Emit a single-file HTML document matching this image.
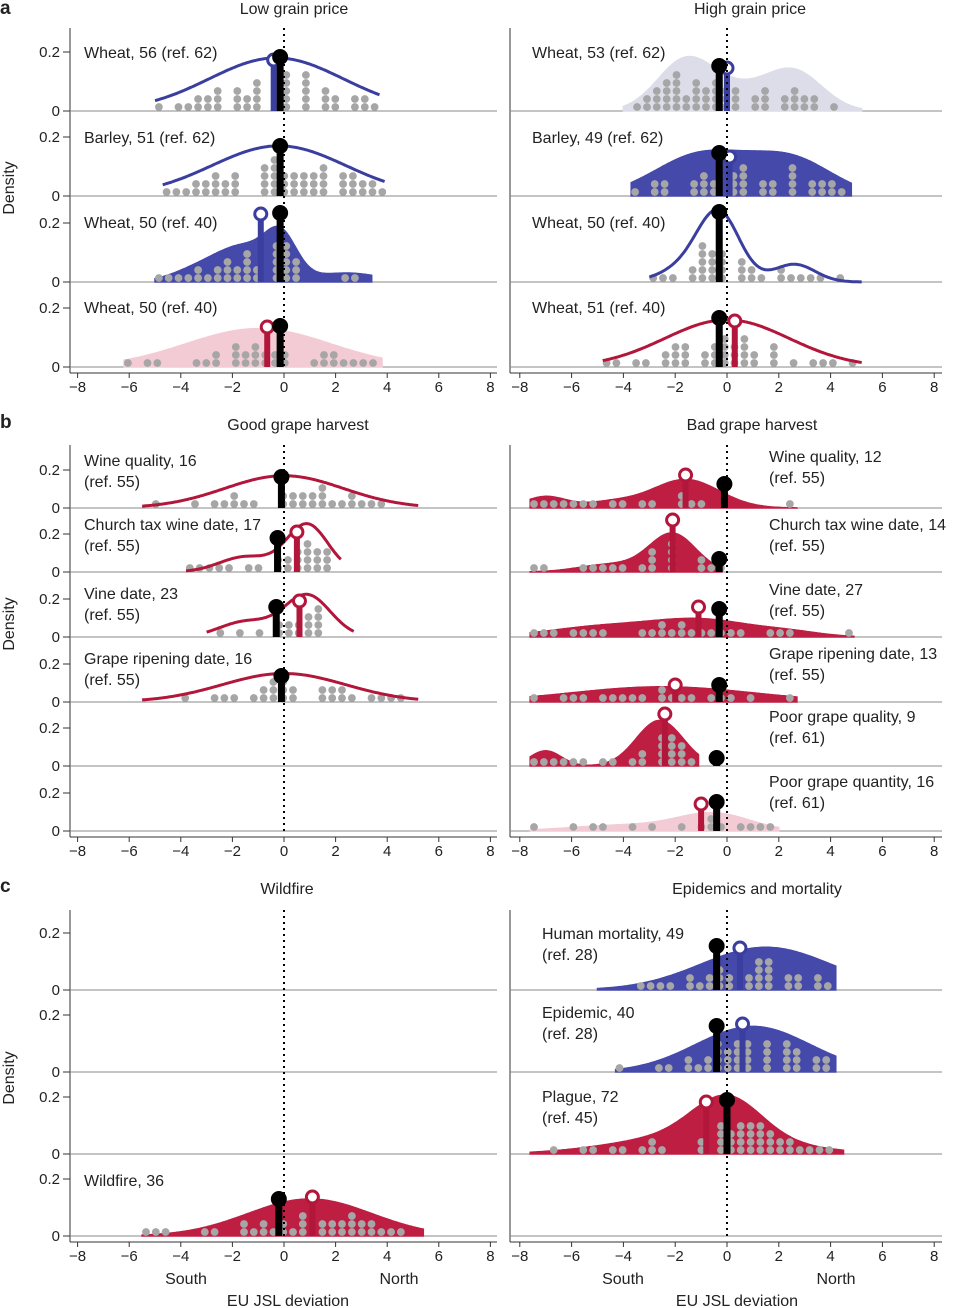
<!DOCTYPE html>
<html><head><meta charset="utf-8">
<style>
html,body{margin:0;padding:0;background:#fff;}
svg{display:block;font-family:"Liberation Sans",Arial,sans-serif;}
</style></head>
<body>
<svg id="s" width="960" height="1308" viewBox="0 0 960 1308" xmlns="http://www.w3.org/2000/svg"></svg>
<script>
const S=document.getElementById('s');let out='';
const L={x0:284,s:25.8,a:70,b:497},R={x0:727,s:25.9,a:510,b:942};
const BLUE='#3a3e9e',BLUEF='#4549aa',RED='#b3163b',REDF='#bd1e42',LAV='#dcdde9',PINK='#f3cbd5';
function T(x,y,t,o){o=o||{};out+=`<text x="${x}" y="${y}" font-size="${o.fs||16}" text-anchor="${o.a||'start'}" fill="#222" ${o.w?'font-weight="bold"':''} ${o.tr?`transform="${o.tr}"`:''}>${t}</text>`;}
let seed=7;function rnd(){seed=(seed*9301+49297)%233280;return seed/233280;}
function dens(g,x){let d=0;for(const [m,sd,a] of g)d+=a*Math.exp(-0.5*((x-m)/sd)**2);return d;}
function row(P,base,H,r){
 const X=v=>P.x0+v*P.s, Y=d=>base-d/0.2*H;
 out+=`<line x1="${P.a}" y1="${base}" x2="${P.b}" y2="${base}" stroke="#888" stroke-width="1"/>`;
 if(r.g){
  let pts=[];for(let v=r.lo;v<=r.hi+1e-6;v+=0.05)pts.push([X(v),Y(dens(r.g,v))]);
  const pl=pts.map(p=>p[0].toFixed(1)+','+p[1].toFixed(1)).join(' ');
  if(r.fill){out+=`<polygon points="${X(r.lo)},${base} ${pl} ${X(r.hi)},${base}" fill="${r.fill}" stroke="${r.stroke||r.fill}" stroke-width="1.5"/>`;}
  for(let v=r.lo+0.15;v<=r.hi;v+=0.38){
   if(rnd()<0.2)continue;
   let n=Math.round(dens(r.g,v)/0.2*H/8*0.65*(0.5+rnd()*0.8));
   if(n<1&&rnd()<0.5)n=1;
   for(let k=0;k<n;k++)out+=`<circle cx="${X(v).toFixed(1)}" cy="${base-4-k*8}" r="3.9" fill="#a6a6a6"/>`;
  }
  if(!r.fill)out+=`<polyline points="${pl}" fill="none" stroke="${r.line}" stroke-width="3"/>`;
 }
 if(r.open){const [v,y,c]=r.open;out+=`<rect x="${X(v)-3}" y="${y}" width="6" height="${base-y}" fill="${c}"/><circle cx="${X(v)}" cy="${y}" r="6" fill="#fff" stroke="${c}" stroke-width="3"/>`;}
 if(r.blk){const [v,y]=r.blk;out+=`<rect x="${X(v)-3.5}" y="${y}" width="7" height="${base-y}" fill="#000"/><circle cx="${X(v)}" cy="${y}" r="8" fill="#000"/>`;}
 if(r.lab){r.lab.forEach((t,i)=>T(r.lx,r.ly+i*21,t));}
}
function axis(P,y){
 out+=`<line x1="${P.a}" y1="${y}" x2="${P.b}" y2="${y}" stroke="#333"/>`;
 for(let v=-8;v<=8;v+=2){const x=P.x0+v*P.s;out+=`<line x1="${x}" y1="${y}" x2="${x}" y2="${y+5}" stroke="#333"/>`;T(x,y+19,(v<0?'−':'')+Math.abs(v),{a:'middle',fs:15});}
}
function yl(base,H){T(60,base-H+5,'0.2',{a:'end',fs:15});T(60,base+5,'0',{a:'end',fs:15});out+=`<line x1="63" y1="${base-H}" x2="70" y2="${base-H}" stroke="#333"/><line x1="63" y1="${base}" x2="70" y2="${base}" stroke="#333"/>`;}
function dotline(P,y1,y2){out+=`<line x1="${P.x0}" y1="${y1}" x2="${P.x0}" y2="${y2}" stroke="#000" stroke-width="2" stroke-dasharray="2,4"/>`;}
function vax(P,y1,y2){out+=`<line x1="${P.a}" y1="${y1}" x2="${P.a}" y2="${y2}" stroke="#333"/>`;}

T(0,14,'a',{w:1,fs:19});T(294,14,'Low grain price',{a:'middle'});T(750,14,'High grain price',{a:'middle'});
const aB=[111,196,282,367],aH=59;
aB.forEach(b=>yl(b,aH));vax(L,28,373);vax(R,28,373);
T(14,188,'Density',{a:'middle',tr:'rotate(-90 14 188)'});
row(L,111,aH,{g:[[-0.3,2.6,0.18]],lo:-5,hi:3.7,line:BLUE,open:[-0.4,60,BLUE],blk:[-0.15,57],lab:['Wheat, 56 (ref. 62)'],lx:84,ly:58});
row(L,196,aH,{g:[[-0.2,2.6,0.17]],lo:-4.7,hi:3.9,line:BLUE,blk:[-0.15,146],lab:['Barley, 51 (ref. 62)'],lx:84,ly:143});
row(L,282,aH,{g:[[-0.1,0.6,0.12],[-1.5,1.2,0.12],[2.5,1.2,0.03],[-3.5,1,0.03]],lo:-5,hi:3.4,fill:BLUEF,open:[-0.9,214,BLUE],blk:[-0.15,213],lab:['Wheat, 50 (ref. 40)'],lx:84,ly:228});
row(L,367,aH,{g:[[-1,2.8,0.13]],lo:-6.2,hi:3.8,fill:PINK,open:[-0.65,327,RED],blk:[-0.15,326],lab:['Wheat, 50 (ref. 40)'],lx:84,ly:313});
row(R,111,aH,{g:[[-1.6,1.1,0.17],[2.6,1.1,0.13],[0.5,1.2,0.06]],lo:-4,hi:5.2,fill:LAV,open:[0,68,BLUE],blk:[-0.3,66],lab:['Wheat, 53 (ref. 62)'],lx:532,ly:58});
row(R,196,aH,{g:[[-1,1.8,0.14],[2.5,1.6,0.12]],lo:-3.7,hi:4.8,fill:BLUEF,open:[0.1,157,BLUE],blk:[-0.3,153],lab:['Barley, 49 (ref. 62)'],lx:532,ly:143});
row(R,282,aH,{g:[[-0.3,0.8,0.22],[2.6,0.8,0.06],[-1.5,1,0.05]],lo:-3,hi:5.2,line:BLUE,blk:[-0.3,212],lab:['Wheat, 50 (ref. 40)'],lx:532,ly:228});
row(R,367,aH,{g:[[0,2.4,0.16]],lo:-4.8,hi:5.2,line:RED,open:[0.3,321,RED],blk:[-0.3,318],lab:['Wheat, 51 (ref. 40)'],lx:532,ly:313});
dotline(L,28,367);dotline(R,28,367);axis(L,373);axis(R,373);

T(0,428,'b',{w:1,fs:19});T(298,430,'Good grape harvest',{a:'middle'});T(752,430,'Bad grape harvest',{a:'middle'});
const bB=[508,572,637,702,766,831],bH=38;
bB.forEach(b=>yl(b,bH));vax(L,445,837);vax(R,445,837);
T(14,624,'Density',{a:'middle',tr:'rotate(-90 14 624)'});
row(L,508,bH,{g:[[0,2.3,0.17]],lo:-5.5,hi:5.2,line:RED,blk:[-0.1,477],lab:['Wine quality, 16','(ref. 55)'],lx:84,ly:466});
row(L,572,bH,{g:[[0.9,0.8,0.25],[-1.5,1,0.08]],lo:-3.8,hi:2.2,line:RED,open:[0.5,532,RED],blk:[-0.25,538],lab:['Church tax wine date, 17','(ref. 55)'],lx:84,ly:530});
row(L,637,bH,{g:[[0.9,0.9,0.22],[-1.5,1,0.08]],lo:-3,hi:2.7,line:RED,open:[0.6,601,RED],blk:[-0.3,607],lab:['Vine date, 23','(ref. 55)'],lx:84,ly:599});
row(L,702,bH,{g:[[0,2.4,0.15]],lo:-5.5,hi:5.2,line:RED,blk:[-0.1,676],lab:['Grape ripening date, 16','(ref. 55)'],lx:84,ly:664});
row(L,766,bH,{});row(L,831,bH,{});
row(R,508,bH,{g:[[-7,0.8,0.06],[-1.6,1.3,0.15],[-4.5,1,0.03]],lo:-7.6,hi:2.7,fill:REDF,open:[-1.6,475,RED],blk:[-0.1,484],lab:['Wine quality, 12','(ref. 55)'],lx:769,ly:462});
row(R,572,bH,{g:[[-2.1,0.9,0.2],[-4.5,1.2,0.04]],lo:-7.6,hi:-0.2,fill:REDF,open:[-2.1,520,RED],blk:[-0.3,559],lab:['Church tax wine date, 14','(ref. 55)'],lx:769,ly:530});
row(R,637,bH,{g:[[-1,2,0.09],[-5,2,0.05],[2.5,1.2,0.02]],lo:-7.6,hi:4.9,fill:REDF,open:[-1.1,607,RED],blk:[-0.3,609],lab:['Vine date, 27','(ref. 55)'],lx:769,ly:595});
row(R,702,bH,{g:[[-2.5,3.5,0.08]],lo:-7.6,hi:2.7,fill:REDF,open:[-2,685,RED],blk:[-0.3,685],lab:['Grape ripening date, 13','(ref. 55)'],lx:769,ly:659});
row(R,766,bH,{g:[[-2.6,0.9,0.24],[-7,0.6,0.08]],lo:-7.6,hi:-1.1,fill:REDF,open:[-2.4,714,RED],blk:[-0.4,758],lab:['Poor grape quality, 9','(ref. 61)'],lx:769,ly:722});
row(R,831,bH,{g:[[-0.5,1.4,0.09],[-4,2,0.03]],lo:-7.6,hi:2,fill:PINK,open:[-1,804,RED],blk:[-0.4,802],lab:['Poor grape quantity, 16','(ref. 61)'],lx:769,ly:787});
dotline(L,445,831);dotline(R,445,831);axis(L,837);axis(R,837);

T(0,892,'c',{w:1,fs:19});T(287,894,'Wildfire',{a:'middle'});T(757,894,'Epidemics and mortality',{a:'middle'});
const cB=[990,1072,1154,1236],cH=57;
cB.forEach(b=>yl(b,cH));vax(L,910,1242);vax(R,910,1242);
T(14,1078,'Density',{a:'middle',tr:'rotate(-90 14 1078)'});
row(L,990,cH,{});row(L,1072,cH,{});row(L,1154,cH,{});
row(L,1236,cH,{g:[[1,2.4,0.13]],lo:-5.5,hi:5.4,fill:REDF,open:[1.1,1197,RED],blk:[-0.2,1199],lab:['Wildfire, 36'],lx:84,ly:1186});
row(R,990,cH,{g:[[1.5,2.5,0.15]],lo:-5,hi:4.2,fill:BLUEF,open:[0.5,948,BLUE],blk:[-0.4,946],lab:['Human mortality, 49','(ref. 28)'],lx:542,ly:939});
row(R,1072,cH,{g:[[1,2.2,0.16]],lo:-4.3,hi:4.2,fill:BLUEF,open:[0.6,1024,BLUE],blk:[-0.4,1026],lab:['Epidemic, 40','(ref. 28)'],lx:542,ly:1018});
row(R,1154,cH,{g:[[0,1.3,0.14],[-1,3,0.07]],lo:-7.6,hi:4.5,fill:REDF,open:[-0.8,1102,RED],blk:[0,1100],lab:['Plague, 72','(ref. 45)'],lx:542,ly:1102});
row(R,1236,cH,{});
dotline(L,910,1236);dotline(R,910,1236);axis(L,1242);axis(R,1242);
T(186,1284,'South',{a:'middle'});T(399,1284,'North',{a:'middle'});T(288,1306,'EU JSL deviation',{a:'middle'});
T(623,1284,'South',{a:'middle'});T(836,1284,'North',{a:'middle'});T(737,1306,'EU JSL deviation',{a:'middle'});
S.innerHTML=out;
</script>
</body></html>
